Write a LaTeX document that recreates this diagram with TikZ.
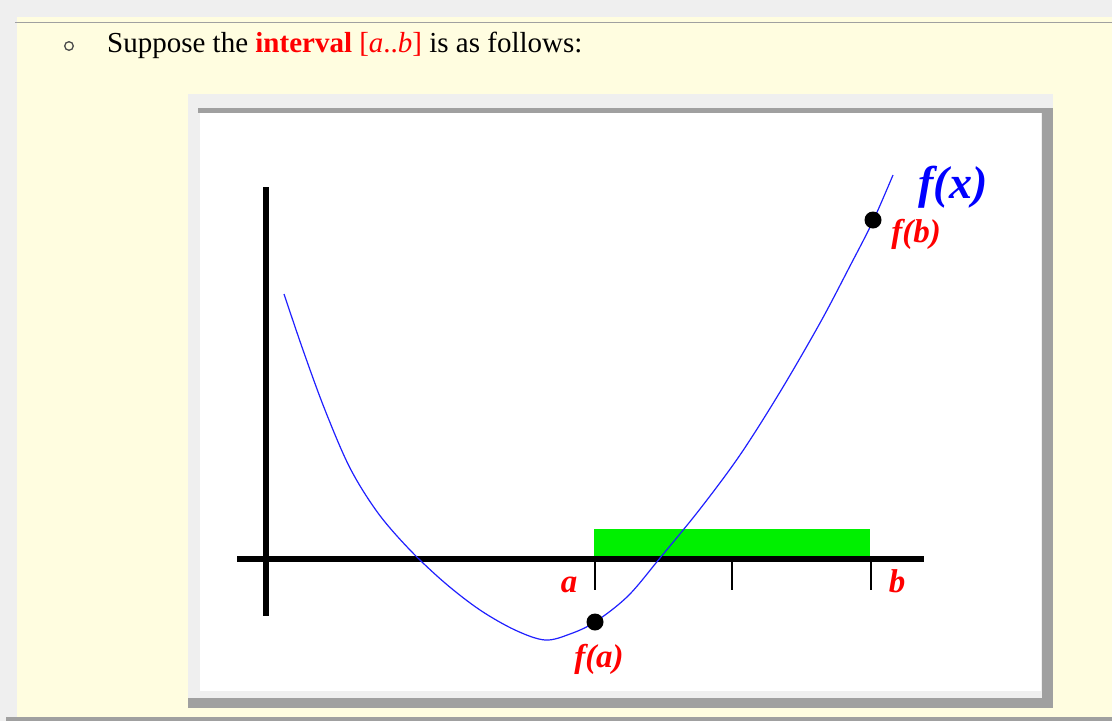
\documentclass[tikz,border=0pt]{standalone}
\usepackage{fontspec}
\setmainfont{Liberation Serif}
\definecolor{pagegray}{HTML}{EFEFEF}
\definecolor{framegray}{HTML}{A0A0A0}
\definecolor{paleyellow}{HTML}{FFFDE0}
\definecolor{barfill}{HTML}{00F000}
\definecolor{curveblue}{HTML}{2020FF}
\begin{document}
\begin{tikzpicture}[x=1pt,y=-1pt,
  lbl/.style={text=red, font=\fontsize{33}{33}\selectfont\bfseries\itshape, inner sep=0, anchor=base},
  dot/.style={circle, fill=black, inner sep=0, minimum size=17pt},
  axisline/.style={line width=5.5pt, black},
  tickline/.style={line width=2pt, black}]
\useasboundingbox (0,0) rectangle (1112,721);
% page background
\fill[pagegray] (0,0) rectangle (1112,721);
\fill[paleyellow] (17,17) rectangle (1112,717);
\fill[framegray] (15,21.5) rectangle (1112,23);
\fill[framegray] (6,717) rectangle (1112,721);
% picture frame
\fill[pagegray] (188,94) rectangle (1053,708);
\fill[framegray] (198,108) rectangle (1053,113);
\fill[framegray] (1042,108) rectangle (1053,708);
\fill[framegray] (188,698) rectangle (1053,708);
\fill[white] (200,113) rectangle (1041,691);
% title line
\draw[line width=1.3pt, black!70] (69,46) circle (4.3);
\node[anchor=base west, inner sep=0, font=\fontsize{29}{29}\selectfont] (title) at (107,52)
  {Suppose the \textcolor{red}{\textbf{interval} [\textit{a}..\textit{b}]} is as follows:};
% interval bar
\fill[barfill] (594,529) rectangle (870,556);
% axes
\draw[axisline] (266,187) -- (266,616);
\draw[axisline] (237,559) -- (924,559);
\draw[tickline] (595,559) -- (595,590);
\draw[tickline] (732,559) -- (732,590);
\draw[tickline] (871,559) -- (871,590);
% curve
\draw[curveblue, line width=1.2pt] plot[smooth, tension=0.55] coordinates {
 (284,294) (303,350) (325,410) (350,468) (378,513) (410,550) (445,583) (480,610)
 (515,630) (545,640) (570,634) (595,622) (628,596) (660,558) (700,509) (740,455)
 (780,392) (820,323) (850,266) (873,221) (893,175)};
% points
\node[dot] (pa) at (595,622) {};
\node[dot] (pb) at (873,220) {};
% labels
\node[lbl] (la) at (569,592) {a};
\node[lbl] (lb) at (897,592) {b};
\node[lbl] (lfa) at (599,667) {f(a)};
\node[lbl] (lfb) at (916,242) {f(b)};
\node[lbl, text=blue, font=\fontsize{46}{46}\selectfont\bfseries\itshape] (lfx) at (953,198) {f(x)};
\end{tikzpicture}
\end{document}
